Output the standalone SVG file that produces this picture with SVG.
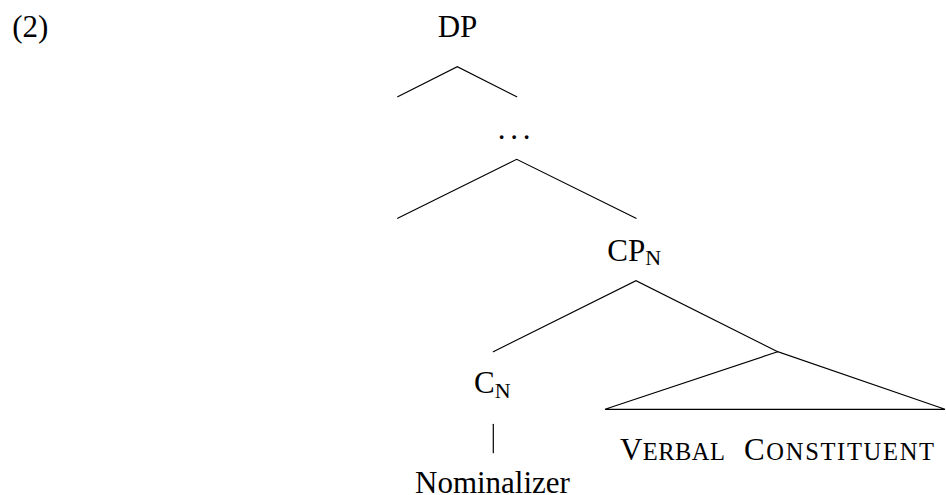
<svg xmlns="http://www.w3.org/2000/svg" width="946" height="495" viewBox="0 0 946 495">
<style>
text{font-size:31px;fill:#000}
.sub{font-size:22px}
.sc{font-size:24.5px}
.edge{stroke:#000;stroke-width:1.2;fill:none;stroke-linecap:round;stroke-linejoin:miter}
</style>
<rect width="946" height="495" fill="#fff"/>
<g font-family="'Liberation Serif', 'DejaVu Serif', serif">
<g id="example-number"><text x="12.3" y="36.7">(2)</text></g>
<g id="node-DP"><text x="457.5" y="37.3" text-anchor="middle">DP</text></g>
<g id="node-dots"><text x="497.8" y="138.5" letter-spacing="4.7">...</text></g>
<g id="node-CPN"><text x="607.3" y="261">CP<tspan class="sub" dy="4">N</tspan></text></g>
<g id="node-CN"><text x="474" y="393.3">C<tspan class="sub" dy="4.4">N</tspan></text></g>
<g id="node-Nominalizer"><text x="415" y="493">Nominalizer</text></g>
<g id="node-VerbalConstituent">
<polygon class="edge" points="777.7,351.7 605,409.3 945,409.3"/>
<text x="620" y="460" textLength="105" lengthAdjust="spacing">V<tspan class="sc">ERBAL</tspan></text>
<text x="744" y="460" textLength="190" lengthAdjust="spacing">C<tspan class="sc">ONSTITUENT</tspan></text>
</g>
</g>
<g id="connectors">
<polyline class="edge" points="397.7,96.7 457.3,66.7 516.7,96.7"/>
<polyline class="edge" points="397.7,218.3 516.7,159.3 636,218.3"/>
<polyline class="edge" points="493.3,351.7 636,280.7 777.7,351.7"/>
<line class="edge" x1="493.3" y1="424.3" x2="493.3" y2="452.7"/>
</g>
</svg>
